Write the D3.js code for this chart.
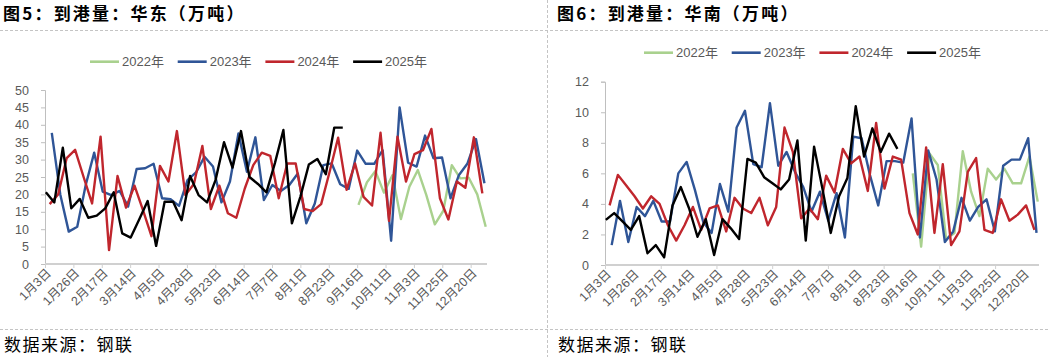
<!DOCTYPE html>
<html><head><meta charset="utf-8">
<script src="https://cdn.jsdelivr.net/npm/d3@7/dist/d3.min.js"></script>
<style>
body{margin:0;background:#fff;}
svg{display:block;}
text{font-family:"Liberation Sans","Noto Sans CJK SC",sans-serif;}
.cjk{font-family:"Noto Sans CJK SC",sans-serif;}
</style>
</head><body>
<svg id="c" width="1050" height="357"></svg>
<script>
// ---------- data ----------
const years = ["2022年", "2023年", "2024年", "2025年"];
// first data week of each year's series on the shared category axis (in weeks)
const startWeek = [36.95, 0.8, 0.55, 0.1];
const xLabels = ["1月3日","1月26日","2月17日","3月14日","4月5日","4月28日","5月23日","6月14日",
                 "7月7日","8月1日","8月23日","9月16日","10月11日","11月3日","11月25日","12月20日"];
const weeksPerLabel = 3.345;
const axisWeeks = 52.1;

const eastTicks = [0, 5, 10, 15, 20, 25, 30, 35, 40, 45, 50];
const southTicks = [0, 2, 4, 6, 8, 10, 12];

const east2022 = [17, 23.5, 26.7, 20.5, 25.5, 12.9, 22.2, 27, 19.8, 11.4, 15.3, 28.4, 24.6, 24.8, 20, 10.7];
const east2023 = [37.7, 20, 9.3, 10.7, 22.7, 32, 20.8, 19.8, 21, 16.5, 27.3, 27.5, 28.8, 18.9, 18.6, 16.7,
  24.1, 26.3, 30.8, 28, 17.7, 23.7, 37.5, 26.5, 36.4, 18.4, 22.7, 21, 22.7, 26, 11.7, 17.4, 28.4, 28.9,
  22.9, 21.6, 32.6, 28.8, 28.8, 32.7, 6.7, 45, 29.1, 28, 36.9, 30.4, 30.6, 18.9, 25.6, 28.9, 35.9, 23.2];
const east2024 = [17.2, 20, 30.4, 32.8, 25, 17.4, 36.6, 4, 25.3, 16.2, 22.5, 15.5, 8, 28.2, 23.7, 38.2,
  19.8, 23, 33.9, 15.8, 22.5, 14.6, 13.3, 21.7, 28.4, 32, 31.1, 18.9, 28.9, 28.9, 15.8, 15.2, 17.2, 26.5,
  36.3, 21.3, 28.9, 19.3, 16.8, 37.7, 12.4, 36.6, 23.7, 31.6, 32.7, 38.8, 18.9, 12.8, 23.7, 21.9, 36.4, 20.3];
const east2025 = [20.6, 17.7, 33.4, 16, 18.7, 13.3, 13.9, 16, 20.6, 8.8, 7.6, 12.8, 18.1, 5.2, 17.9, 17.9,
  12.6, 25.3, 19.8, 17.7, 24.1, 35, 27.7, 38.2, 25, 23, 20.6, 29, 38.5, 11.7, 19.3, 28.6, 30.2, 25.8, 39.2, 39.2];

const south2022 = [6.0, 1.2, 7.3, 6.55, 1.7, 2.1, 7.45, 4.8, 3.2, 6.3, 5.6, 6.3, 5.35, 5.35, 7.1, 4.15];
const south2023 = [1.3, 4.2, 1.5, 3.8, 3.2, 4.2, 2.85, 2.85, 6.0, 6.75, 4.9, 2.8, 2.1, 5.3, 3.5, 9.0, 10.1,
  6.6, 6.4, 10.6, 6.5, 7.4, 6.1, 5.1, 3.5, 4.8, 2.9, 4.7, 1.8, 8.4, 8.3, 5.9, 3.9, 6.8, 6.8, 6.7, 9.6, 1.8,
  7.5, 5.6, 1.5, 2.2, 4.4, 2.9, 3.8, 4.3, 2.2, 6.5, 6.9, 6.9, 8.3, 2.1];
const south2024 = [3.9, 5.9, 5.2, 4.5, 3.7, 4.5, 4.0, 2.6, 1.6, 2.6, 3.8, 2.3, 3.7, 3.9, 2.2, 4.4, 3.7, 3.4,
  4.4, 2.6, 3.8, 9.0, 7.4, 3.05, 3.7, 3.0, 5.85, 4.75, 7.6, 6.65, 7.1, 4.85, 9.3, 5.0, 7.1, 6.9, 3.4, 2.0,
  7.7, 2.1, 6.6, 1.3, 2.2, 6.1, 7.0, 2.3, 2.1, 4.3, 2.9, 3.3, 3.9, 2.3];
const south2025 = [2.95, 3.4, 2.85, 2.3, 3.2, 0.77, 1.3, 0.5, 3.9, 5.1, 3.7, 1.85, 3.0, 0.65, 3.0, 2.4, 1.7,
  6.95, 6.7, 5.75, 5.35, 4.95, 5.6, 8.15, 1.6, 7.75, 5.0, 2.1, 4.5, 5.7, 10.4, 7.1, 8.95, 7.4, 8.6, 7.6];

// ---------- styles ----------
const colors = ["#a9d18e", "#2f5597", "#c0262d", "#000000"];
const svg = d3.select("#c");

// separators
const sep = svg.append("g").attr("stroke", "#c4c4c4").attr("stroke-dasharray", "3,2").attr("stroke-width", 1);
sep.append("line").attr("x1", 0).attr("x2", 1050).attr("y1", 30.5).attr("y2", 30.5);
sep.append("line").attr("x1", 0).attr("x2", 1050).attr("y1", 329.5).attr("y2", 329.5);
sep.append("line").attr("x1", 547.5).attr("x2", 547.5).attr("y1", 0).attr("y2", 357);

const panels = [
  {title: "图5：到港量：华东（万吨）", tx: 3, x0: 45, x1: 487, yTop: 90, yBot: 264,
   ticks: eastTicks, series: [east2022, east2023, east2024, east2025], tickEvery: 1,
   legX: 90, legY: 61.7},
  {title: "图6：到港量：华南（万吨）", tx: 557, x0: 605, x1: 1039, yTop: 81.7, yBot: 265,
   ticks: southTicks, series: [south2022, south2023, south2024, south2025], tickEvery: 2,
   legX: 644, legY: 52.7}
];

panels.forEach(p => {
  const g = svg.append("g");
  g.append("text").attr("class", "cjk").attr("x", p.tx).attr("y", 20)
    .attr("font-size", 17).attr("font-weight", "bold").attr("letter-spacing", 2.2)
    .attr("fill", "#000").text(p.title);
  g.append("text").attr("class", "cjk").attr("x", p.tx + 1).attr("y", 351)
    .attr("font-size", 17).attr("letter-spacing", 1.5).attr("fill", "#000").text("数据来源：钢联");

  const x = d3.scaleLinear().domain([0, axisWeeks]).range([p.x0, p.x1]);
  const y = d3.scaleLinear().domain([0, d3.max(p.ticks)]).range([p.yBot, p.yTop]);

  // y axis
  const ya = g.append("g").attr("transform", `translate(${p.x0},0)`)
    .call(d3.axisLeft(y).tickValues(p.ticks).tickSize(4).tickPadding(12).tickFormat(d3.format("d")));
  ya.select(".domain").attr("stroke", "#bfbfbf");
  ya.selectAll(".tick line").attr("stroke", "#bfbfbf");
  ya.selectAll(".tick text").attr("fill", "#595959").attr("font-size", 12.5)
    .attr("font-family", "Liberation Sans, sans-serif");

  // x axis
  const labelPos = xLabels.map((d, i) => i * weeksPerLabel);
  const xa = g.append("g").attr("transform", `translate(0,${p.yBot})`)
    .call(d3.axisBottom(x).tickValues(labelPos.filter((d, i) => i % p.tickEvery === 0)).tickSize(4).tickFormat(""));
  xa.select(".domain").attr("stroke", "#d0d0d0").attr("stroke-width", 1.8).attr("d", `M${p.x0},0H${p.x1}`);
  xa.selectAll(".tick line").attr("stroke", "#d0d0d0");
  g.append("g").selectAll("text").data(xLabels).join("text")
    .attr("transform", (d, i) => `translate(${x(labelPos[i]) + 4},${p.yBot + 7}) rotate(-45)`)
    .attr("text-anchor", "end").attr("dominant-baseline", "central")
    .attr("font-size", 12.5).attr("fill", "#595959").text(d => d);

  // lines
  const line = d3.line().x(d => x(d.w)).y(d => y(d.v));
  p.series.forEach((s, k) => {
    const pts = s.map((v, i) => ({w: startWeek[k] + i, v}));
    g.append("path").datum(pts).attr("d", line).attr("fill", "none")
      .attr("stroke", colors[k]).attr("stroke-width", 2.4).attr("stroke-linejoin", "round");
  });

  // legend
  const lg = g.append("g");
  years.forEach((yr, k) => {
    const lx = p.legX + k * 87.7;
    lg.append("line").attr("x1", lx).attr("x2", lx + 29).attr("y1", p.legY).attr("y2", p.legY)
      .attr("stroke", colors[k]).attr("stroke-width", 2.6);
    lg.append("text").attr("x", lx + 32).attr("y", p.legY + 4.6).attr("font-size", 13)
      .attr("fill", "#595959").text(yr);
  });
});
</script>
</body></html>
